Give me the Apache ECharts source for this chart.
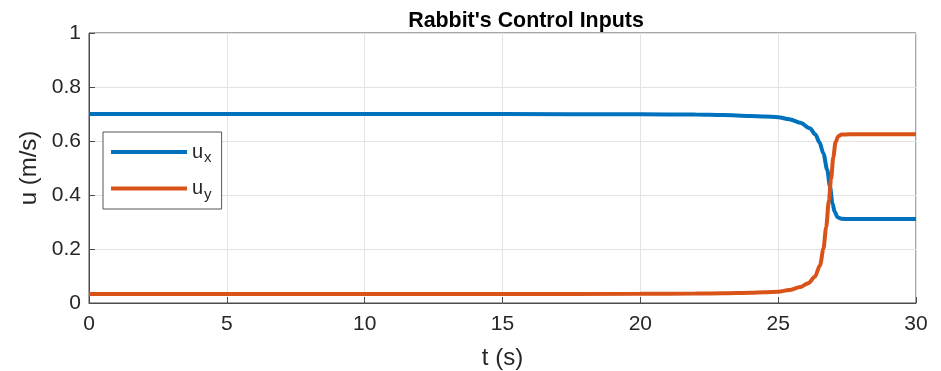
<!DOCTYPE html>
<html><head><meta charset="utf-8">
<script src="https://cdn.jsdelivr.net/npm/echarts@6/dist/echarts.min.js"></script>
<style>html,body{margin:0;padding:0;background:#fff}#c{width:941px;height:371px}</style>
</head><body><div id="c"></div>
<script>
const tX  = [0, 5, 10, 15, 20, 22, 23, 24, 24.5, 25, 25.4, 25.8, 26.15, 26.35, 26.5, 26.64, 26.78, 26.88, 26.97, 27.05, 27.15, 27.3, 27.6, 28, 29, 30];
const uxV = [0.70, 0.70, 0.70, 0.70, 0.699, 0.698, 0.696, 0.693, 0.691, 0.688, 0.681, 0.668, 0.647, 0.624, 0.595, 0.554, 0.493, 0.431, 0.369, 0.338, 0.318, 0.312, 0.311, 0.311, 0.311, 0.311];
const tY  = [0, 5, 10, 15, 20, 22, 23, 24, 24.5, 25, 25.4, 25.8, 26.09, 26.33, 26.52, 26.64, 26.74, 26.84, 26.92, 27.0, 27.08, 27.18, 27.3, 27.6, 28, 29, 30];
const uyV = [0.033, 0.033, 0.033, 0.033, 0.034, 0.035, 0.036, 0.038, 0.040, 0.042, 0.048, 0.059, 0.073, 0.097, 0.14, 0.2, 0.28, 0.38, 0.46, 0.54, 0.595, 0.618, 0.624, 0.625, 0.625, 0.625, 0.625];
const xTicks = [0, 5, 10, 15, 20, 25, 30];
const yTicks = [0, 0.2, 0.4, 0.6, 0.8, 1];
const seriesNames = ['ux', 'uy'];

const font = 'Liberation Sans, Arial, sans-serif';
const axisCol = '#4d4d4d';
const txtCol = '#262626';
const chart = echarts.init(document.getElementById('c'));
chart.setOption({
  animation: false,
  title: {text: "Rabbit's Control Inputs", left: 521, top: 6, textAlign: 'center',
    textStyle: {fontFamily: font, fontWeight: 'bold', fontSize: 21.4, color: '#000'}},
  grid: {left: 89, right: 25, top: 33, bottom: 68, show: true, borderColor: axisCol, borderWidth: 1,
    containLabel: false, outerBoundsMode: 'none'},
  legend: {
    left: 103, top: 132, orient: 'vertical', itemWidth: 76, itemHeight: 4, itemGap: 13,
    padding: [10, 10, 7, 8],
    borderColor: '#555', borderWidth: 1, backgroundColor: '#fff',
    icon: 'rect',
    data: seriesNames,
    formatter: n => n === 'ux' ? '{b|u}{s|x}' : '{b|u}{s|y}',
    textStyle: {
      fontFamily: font, color: txtCol,
      rich: {b: {fontSize: 20, fontFamily: font, color: txtCol},
             s: {fontSize: 15, fontFamily: font, color: txtCol, verticalAlign: 'bottom', padding: [12, 0, 0, 1]}}
    }
  },
  xAxis: {
    type: 'value', min: 0, max: 30, interval: 5,
    name: 't (s)', nameLocation: 'middle', nameGap: 43,
    nameTextStyle: {fontFamily: font, fontSize: 24, color: txtCol},
    axisLine: {show: true, lineStyle: {color: axisCol}},
    axisTick: {inside: true, length: 6, lineStyle: {color: axisCol}},
    axisLabel: {fontFamily: font, fontSize: 21, color: txtCol, margin: 11,
      formatter: v => xTicks.includes(v) ? String(v) : ''},
    splitLine: {show: true, lineStyle: {color: '#e3e3e3'}}
  },
  yAxis: {
    type: 'value', min: 0, max: 1, interval: 0.2,
    name: 'u (m/s)', nameLocation: 'middle', nameGap: 40,
    nameTextStyle: {fontFamily: font, fontSize: 24, color: txtCol},
    axisLine: {show: true, lineStyle: {color: axisCol}},
    axisTick: {inside: true, length: 6, lineStyle: {color: axisCol}},
    axisLabel: {fontFamily: font, fontSize: 21, color: txtCol, margin: 8,
      formatter: v => { const t = yTicks.find(k => Math.abs(k - v) < 1e-9); return t === undefined ? '' : String(t); }},
    splitLine: {show: true, lineStyle: {color: '#e3e3e3'}}
  },
  series: [
    {name: 'ux', type: 'line', data: tX.map((t, i) => [t, uxV[i]]), showSymbol: false,
     smooth: 0.3, smoothMonotone: 'x', lineStyle: {width: 4, color: '#0072BD'}, itemStyle: {color: '#0072BD'}},
    {name: 'uy', type: 'line', data: tY.map((t, i) => [t, uyV[i]]), showSymbol: false,
     smooth: 0.3, smoothMonotone: 'x', lineStyle: {width: 4, color: '#D95319'}, itemStyle: {color: '#D95319'}}
  ]
});
</script></body></html>
